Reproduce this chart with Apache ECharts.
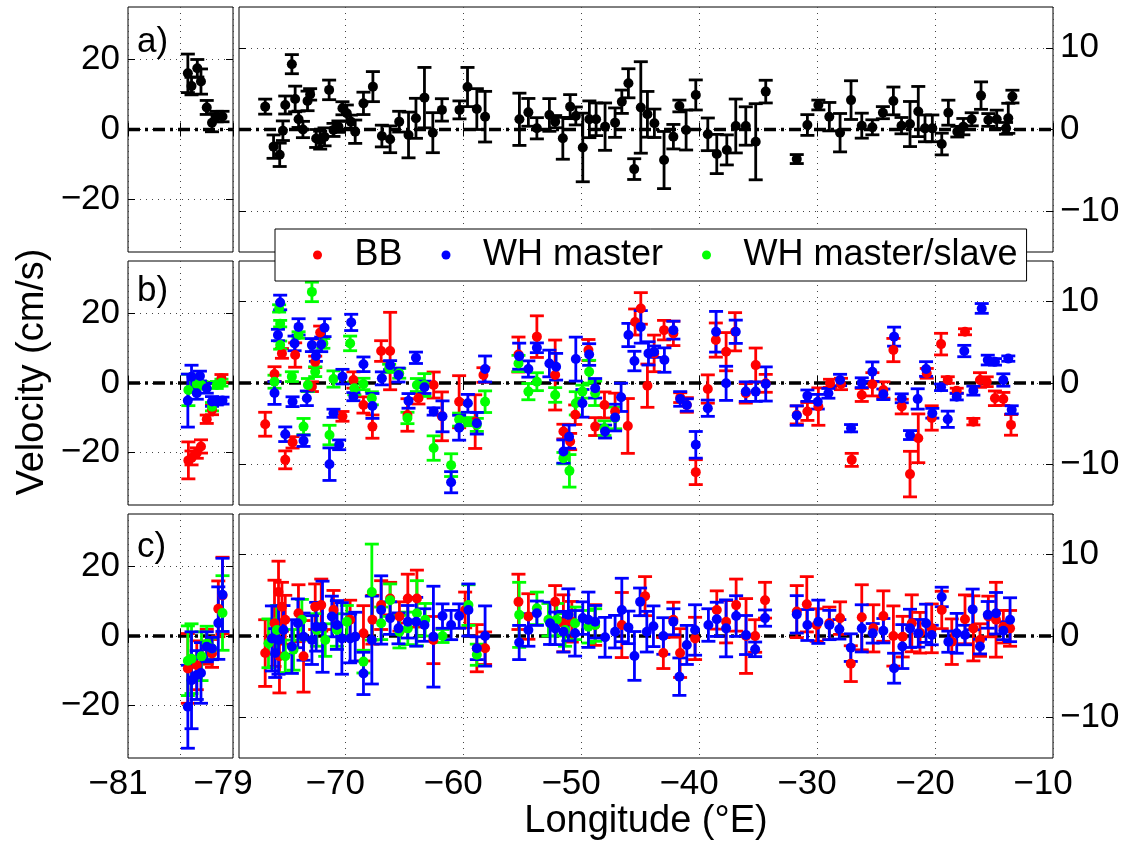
<!DOCTYPE html>
<html><head><meta charset="utf-8">
<script src="https://cdn.jsdelivr.net/npm/echarts@6/dist/echarts.min.js"></script>
<style>html,body{margin:0;padding:0;background:#fff}#c{width:1131px;height:845px}</style>
</head><body><div id="c"></div><script>
// ---------------- data: [longitude, velocity, error] ----------------
const A_LEFT = [[-79.86,16.05,5.5],[-79.79,12.4,2.5],[-79.68,17.5,2.5],[-79.61,13.7,3.6],[-79.5,6.3,2.0],[-79.4,1.95,2.6],[-79.31,3.7,1.5],[-79.2,3.7,1.5]];
const A_RIGHT = [[-76.78,2.8,0.92],[-76.07,-2.1,1.43],[-75.55,-3.1,1.43],[-75.28,-0.15,1.2],[-75.08,3.0,1.1],[-74.52,8.0,1.17],[-74.24,3.74,1.57],[-73.95,1.25,1.0],[-73.58,0.0,1.0],[-73.19,3.5,1.2],[-72.97,4.3,0.7],[-72.46,-1.1,1.1],[-72.12,-1.3,1.1],[-71.75,-0.9,1.1],[-71.36,4.85,1.2],[-70.99,-0.05,0.8],[-70.57,0.35,0.7],[-70.23,2.6,0.8],[-69.86,2.0,1.0],[-69.52,0.96,0.8],[-69.15,-0.27,1.43],[-68.45,3.2,1.37],[-67.65,5.25,1.84],[-66.89,-0.8,1.33],[-66.19,-1.2,1.64],[-65.42,0.96,1.27],[-64.63,-0.67,2.8],[-64.0,1.37,2.45],[-63.28,3.9,3.7],[-62.57,-0.39,2.45],[-61.8,2.4,1.37],[-60.31,2.4,1.1],[-59.63,5.2,2.4],[-58.84,2.5,2.5],[-58.14,1.57,3.1],[-55.23,1.25,3.2],[-54.47,2.1,1.7],[-53.75,0.15,1.3],[-52.69,1.78,2.0],[-52.2,0.96,0.75],[-51.55,-1.08,2.56],[-50.93,2.8,1.47],[-50.45,1.66,1.1],[-49.86,-2.2,4.2],[-49.3,1.25,2.25],[-48.73,1.25,2.0],[-47.97,0.35,2.9],[-47.12,0.84,1.8],[-46.55,3.4,1.43],[-45.99,5.66,1.78],[-45.5,-4.85,1.27],[-44.94,2.7,5.6],[-44.38,1.86,2.8],[-43.79,0.76,1.74],[-42.97,-3.74,3.5],[-42.18,-0.88,1.5],[-41.67,2.88,0.72],[-41.1,-0.06,2.45],[-40.28,4.23,1.84],[-39.26,-0.59,2.0],[-38.5,-3.0,2.4],[-37.65,-2.5,1.84],[-36.89,0.43,3.3],[-36.04,0.43,2.35],[-35.2,-1.5,4.66],[-34.35,4.64,1.39],[-31.72,-3.62,0.55],[-30.82,0.55,1.27],[-29.89,3.0,0.6],[-28.96,1.57,1.74],[-28.05,-0.39,2.35],[-27.12,3.6,2.37],[-26.21,0.47,1.53],[-25.31,0.27,0.92],[-24.42,2.06,0.74],[-23.53,3.5,1.7],[-22.84,0.47,1.0],[-22.12,0.67,2.76],[-21.42,2.2,3.07],[-20.85,0.14,1.64],[-20.23,0.14,1.64],[-19.43,-1.78,1.33],[-18.87,2.06,1.53],[-18.11,-0.27,0.65],[-17.6,0.35,1.0],[-16.89,1.25,0.8],[-16.1,4.15,1.68],[-15.48,1.17,0.78],[-14.77,1.25,1.12],[-13.98,0.14,0.72],[-13.79,1.37,1.84],[-13.44,4.03,0.78]];

const B_LEFT_BB = [[-79.85,-22.2,5.3],[-79.79,-21.5,2],[-79.69,-20.1,1.5],[-79.61,-18.2,1.9],[-79.5,-10.4,1.2],[-79.4,-7.7,1.4],[-79.22,1.33,1.1]];
const B_LEFT_WH = [[-79.86,-5.05,7.6],[-79.79,1.8,3.3],[-79.69,-2.95,1.7],[-79.63,2.0,1.4],[-79.5,-1.52,1.4],[-79.4,-5.3,1.4],[-79.31,-5.3,1.0],[-79.2,-5.05,1.0]];
const B_LEFT_WHMS = [[-79.85,-2.0,4.5],[-79.69,-0.3,1.5],[-79.6,-0.57,1.0],[-79.4,-6.8,1.2],[-79.31,-0.57,1.0],[-79.22,0.1,1.0]];

const B_RIGHT_BB = [[-76.78,-5.07,1.47],[-75.99,1.1,0.9],[-75.36,3.64,0.6],[-75.08,-9.45,1.1],[-74.46,-7.3,0.7],[-74.24,3.44,1.5],[-72.82,-0.45,0.6],[-72.54,2.6,0.7],[-72.12,6.2,0.8],[-70.23,-4.1,0.6],[-69.3,0.37,1.0],[-68.45,-2.7,1.0],[-67.69,-5.36,1.43],[-66.95,3.93,1.27],[-66.19,3.93,4.76],[-64.72,-3.93,2.0],[-63.79,-1.88,0.7],[-62.5,-0.25,1.6],[-61.8,-4.1,3.0],[-60.34,-2.3,3.2],[-58.98,-4.75,3.3],[-58.28,0.98,0.9],[-55.31,3.5,2.15],[-53.75,5.7,2.56],[-52.2,0.98,4.3],[-51.5,-5.97,0.9],[-50.93,-7.2,1.0],[-50.5,-3.9,1.2],[-49.38,4.05,1.3],[-48.81,-5.36,1.1],[-48.02,-2.7,1.6],[-47.12,-3.5,2.25],[-46.04,-5.28,3.37],[-45.42,7.5,1.6],[-44.94,9.17,1.94],[-44.38,-0.33,2.66],[-43.81,3.64,2.25],[-42.97,6.5,1.2],[-42.18,6.1,1.5],[-41.6,-1.8,0.6],[-41.04,-2.7,0.9],[-40.28,-10.96,1.53],[-39.26,-0.74,1.74],[-38.58,5.28,2.1],[-37.71,3.85,2.35],[-36.95,6.3,2.35],[-36.04,-1.27,1.2],[-35.2,2.2,2.1],[-34.35,-0.04,1.1],[-31.72,-3.93,1.1],[-30.82,-3.5,1.1],[-29.89,-2.9,2.3],[-28.9,-0.04,0.5],[-27.97,-0.12,0.7],[-27.06,-9.45,0.8],[-26.21,-1.47,0.8],[-25.31,-0.16,1.43],[-24.38,-0.86,1.0],[-23.53,4.05,1.43],[-22.82,-2.9,0.9],[-22.12,-11.2,2.8],[-21.42,-6.8,3.0],[-20.7,1.19,0.6],[-20.28,-4.3,1.5],[-19.49,4.78,1.33],[-18.92,0.37,0.4],[-18.16,-0.94,0.3],[-17.46,6.3,0.37],[-16.75,-4.75,0.4],[-16.19,0.37,0.9],[-15.62,0.16,0.6],[-14.92,-1.88,0.9],[-14.21,-1.96,0.8],[-13.56,-5.15,1.27]];
const B_RIGHT_WH = [[-75.99,-1.23,1.4],[-75.51,9.9,0.9],[-75.7,5.9,0.7],[-75.08,-6.3,0.9],[-74.46,-2.3,0.6],[-74.29,4.87,0.9],[-73.95,6.9,1.0],[-73.53,-7.1,0.7],[-73.25,-1.88,0.9],[-72.82,4.66,0.8],[-72.48,3.31,0.65],[-72.03,4.75,0.9],[-71.75,6.8,1.1],[-71.33,-9.98,2.0],[-70.99,-3.72,0.5],[-70.51,-7.6,0.6],[-70.23,0.78,0.9],[-69.49,7.45,1.0],[-69.3,-1.68,0.5],[-68.45,2.3,0.9],[-67.69,-2.82,1.53],[-66.89,0.57,0.8],[-66.19,2.2,0.55],[-65.48,0.98,0.86],[-64.63,-2.2,0.9],[-64.0,3.1,0.7],[-63.28,-0.53,0.76],[-62.5,-3.5,0.45],[-61.75,-4.1,1.9],[-61.02,-12.2,1.3],[-60.34,-5.5,1.53],[-59.6,-2.5,1.1],[-58.84,-4.95,1.33],[-58.14,1.72,1.6],[-55.25,3.3,1.6],[-54.47,1.72,1.0],[-53.75,4.33,0.6],[-52.69,2.4,1.64],[-52.12,2.0,1.64],[-51.5,-8.43,1.43],[-51.02,-6.6,1.43],[-50.45,2.94,2.7],[-49.89,-2.5,1.7],[-49.32,3.5,1.33],[-48.81,-0.65,1.2],[-47.97,-5.97,0.8],[-47.12,-4.25,1.64],[-46.61,-1.76,1.74],[-45.99,5.9,1.43],[-45.48,2.7,1.2],[-44.94,6.9,2.0],[-44.29,3.64,1.43],[-43.81,3.85,0.7],[-42.94,2.82,1.5],[-42.18,6.5,1.1],[-41.6,-1.96,0.9],[-41.04,-2.7,0.76],[-40.28,-7.6,1.64],[-39.26,-3.1,1.0],[-38.56,6.3,2.5],[-37.71,-0.04,2.1],[-36.89,6.3,1.43],[-36.04,-1.06,1.2],[-35.2,-1.06,1.2],[-34.35,-0.12,2.1],[-31.72,-4.0,1.2],[-30.82,-1.56,0.7],[-29.94,-2.3,0.9],[-29.04,-1.27,0.6],[-28.05,0.37,0.7],[-27.12,-5.56,0.45],[-26.21,0.04,0.6],[-25.31,1.39,1.2],[-24.38,-1.39,0.65],[-23.47,5.7,1.17],[-22.82,-1.88,0.55],[-22.12,-6.4,0.55],[-21.47,-1.96,1.25],[-20.76,1.72,0.9],[-20.23,-3.72,0.6],[-19.49,-0.53,0.4],[-18.92,-4.46,1.0],[-18.16,-1.68,0.4],[-17.52,3.93,0.7],[-16.75,-0.94,0.55],[-16.04,9.17,0.6],[-15.53,2.82,0.6],[-14.92,2.6,0.4],[-14.21,0.37,0.76],[-13.79,3.0,0.33],[-13.5,-3.3,0.5]];
const B_RIGHT_WHMS = [[-75.99,0.16,0.8],[-75.6,9.17,0.45],[-75.51,7.3,0.4],[-75.51,4.66,0.5],[-74.52,0.78,0.6],[-73.95,5.9,0.4],[-73.53,-5.36,1.0],[-73.16,-0.25,0.8],[-72.82,11.2,1.2],[-72.54,1.39,0.6],[-71.85,4.87,0.6],[-71.33,-6.4,1.2],[-70.99,0.49,1.0],[-69.58,4.87,0.9],[-69.22,-0.65,0.8],[-68.45,-0.12,0.7],[-67.74,-1.88,0.8],[-66.27,1.8,0.5],[-65.42,1.19,0.6],[-64.72,-4.3,0.7],[-63.92,-0.25,0.8],[-63.28,-0.25,1.4],[-62.5,-8.0,1.5],[-61.02,-10.1,1.4],[-60.34,-4.5,0.8],[-59.6,-4.75,0.5],[-58.84,-5.15,0.8],[-58.14,-2.3,1.33],[-55.31,2.4,1.0],[-54.47,-1.06,1.0],[-53.75,0.16,1.1],[-52.2,-1.47,0.9],[-51.5,-9.24,0.7],[-50.99,-10.8,2.0],[-50.45,-2.5,1.43],[-49.89,-1.06,0.8],[-49.32,1.39,1.4],[-48.81,-1.27,1.5],[-48.02,-5.56,0.9],[-47.12,-4.3,1.33]];

const C_LEFT_BB = [[-79.86,-9.3,10],[-79.69,-8.4,7],[-79.5,-3.1,5],[-79.4,-5.0,4],[-79.28,7.8,8],[-79.2,11.6,11]];
const C_LEFT_WH = [[-79.86,-20.3,11.9],[-79.79,-12.7,13.9],[-79.69,-11.2,7],[-79.61,-10.6,8.7],[-79.5,-3.1,4.3],[-79.4,-3.6,3.2],[-79.28,3.7,10.4],[-79.2,11.8,10.5]];
const C_LEFT_WHMS = [[-79.86,-7.1,10],[-79.79,-6.5,10],[-79.6,-5.8,7],[-79.5,-2.2,5],[-79.4,-3.6,3],[-79.2,6.6,10.7]];

const C_RIGHT_BB = [[-76.78,-2.1,4.1],[-75.99,1.56,5.3],[-75.65,5.4,3.8],[-75.36,3.6,3.0],[-75.57,-2.5,4.5],[-75.08,2.0,3.0],[-73.96,2.8,3.5],[-73.53,-2.5,4.4],[-72.54,3.6,2.8],[-72.03,3.8,3.2],[-70.99,3.2,2.4],[-69.58,2.0,2.4],[-68.45,0.33,3.4],[-67.69,2.0,3.0],[-66.95,3.8,3.0],[-66.19,4.6,2.0],[-65.4,2.4,1.8],[-64.69,4.6,3.0],[-63.92,4.6,3.5],[-62.52,-0.5,2.9],[-59.83,3.2,2.2],[-58.84,-1.5,2.9],[-58.14,-1.5,2.0],[-55.31,4.2,3.4],[-54.47,2.4,2.8],[-52.2,4.2,2.0],[-51.5,1.56,3.5],[-50.79,1.75,2.5],[-48.81,1.35,2.5],[-46.55,1.35,4.0],[-44.58,4.9,2.4],[-43.03,-2.1,1.9],[-42.18,2.0,2.15],[-41.61,-2.1,3.0],[-40.34,-0.3,2.6],[-38.5,3.2,2.35],[-37.71,1.75,2.6],[-36.86,3.8,3.2],[-36.02,0,4.6],[-35.25,0,2.0],[-34.41,4.4,2.2],[-31.72,3.0,3.2],[-30.87,3.9,3.4],[-30.03,1.35,2.0],[-28.96,1.56,2.0],[-28.05,2.2,2.0],[-27.14,-3.4,2.2],[-26.21,2.3,4.0],[-25.23,0.94,2.9],[-24.38,2.45,3.1],[-23.53,0,3.7],[-22.74,-0.08,2.5],[-21.97,1.56,3.5],[-21.27,0.4,2.5],[-20.28,0.94,3.0],[-19.43,3.2,2.3],[-18.58,-0.7,2.8],[-17.46,2.05,3.0],[-16.75,0.94,4.0],[-16.19,-0.5,2.0],[-15.48,2.4,2.5],[-14.83,2.0,4.6],[-14.21,1.14,2.0],[-13.64,0.94,2.2]];
const C_RIGHT_WH = [[-76.21,-0.3,4],[-75.93,-2.1,3],[-75.65,-0.5,4.2],[-75.23,0.74,3],[-74.52,-1.3,3.3],[-74.01,1.56,3],[-73.53,-0.08,2.9],[-72.82,-0.5,3],[-72.46,1.14,3],[-71.92,1.14,5.6],[-71.13,2.4,2.5],[-70.7,1.35,3],[-70.28,-0.3,4.4],[-69.58,-0.3,3],[-69.15,-0.08,3],[-68.45,-4.6,2.6],[-67.74,-0.5,5.4],[-66.95,3.2,4.2],[-66.19,2.2,2],[-65.48,0.94,1.9],[-64.69,1.75,2],[-63.98,1.75,3],[-63.28,1.35,2],[-62.52,-0.08,6.2],[-61.75,2.45,1.5],[-61.02,1.35,1.8],[-60.34,2.45,1.5],[-59.55,3.2,3.2],[-58.84,-1.5,1.4],[-58.14,0,3.7],[-55.25,-0.8,2.1],[-54.47,0.74,2],[-53.75,2.8,1.5],[-52.63,1.56,2.6],[-52.2,0.94,2],[-51.5,0.53,2.5],[-51.08,2.6,3.2],[-50.51,0.33,2.8],[-49.86,2.2,2],[-49.38,2.0,3.4],[-48.81,1.75,2],[-47.97,-0.16,2.45],[-47.12,0.53,2],[-46.55,3.2,3.9],[-45.99,1.06,2],[-45.48,-2.45,3],[-45.0,4.2,1.7],[-44.43,0.53,2.5],[-43.87,1.2,2.5],[-43.03,0,2.25],[-42.18,1.75,1.6],[-41.67,-5.0,2.3],[-41.04,-1.1,2.4],[-40.34,0.74,3.1],[-39.21,1.35,2.0],[-38.5,2.05,2.1],[-37.71,0.94,3.5],[-36.86,2.45,2.5],[-36.02,0.12,2.4],[-35.25,-1.64,0.9],[-34.41,2.2,1.0],[-31.72,2.66,2.3],[-30.82,1.35,1.9],[-29.89,1.75,2.66],[-28.96,1.35,1.8],[-28.11,0.82,1.2],[-27.14,-1.43,1.7],[-26.21,0.94,2.9],[-25.28,0.33,1.2],[-24.38,0.65,1.5],[-23.47,-3.96,1.84],[-22.77,-1.3,2.7],[-22.12,0.94,2.35],[-21.42,0.33,1.7],[-20.76,1.56,2.35],[-20.28,0.12,1.2],[-19.43,4.8,1.2],[-18.87,-0.7,1.3],[-18.16,0.33,2.45],[-17.46,0.12,1.2],[-16.81,3.27,2.5],[-16.19,-1.3,0.9],[-15.53,2.6,1.64],[-14.83,2.8,2.55],[-14.21,0.65,1.1],[-13.64,2.0,2.7]];
const C_RIGHT_WHMS = [[-76.5,-0.9,3],[-75.79,0.74,3],[-75.08,-2.5,2],[-74.38,-1.7,2.5],[-73.67,2.0,2.5],[-72.4,0.74,2],[-71.69,-0.5,2],[-70.7,0.74,2],[-69.86,1.75,2],[-68.45,-3.15,1.4],[-67.74,5.4,5.9],[-66.95,1.56,2],[-66.19,4.4,2],[-65.4,0.53,2],[-64.69,0.94,2],[-63.92,2.8,4],[-63.22,2.0,2],[-61.75,0,0.8],[-59.55,3.8,2.5],[-58.84,-2.3,1.3],[-55.25,2.6,4],[-53.75,3.4,2],[-52.77,2.0,2],[-52.06,2.0,2],[-51.36,0.74,2],[-50.51,1.56,2],[-49.38,1.14,2],[-48.81,1.35,2]];

// ---------------- axes / labels ----------------
const X_LEFT_RANGE = [-81, -79];
const X_RIGHT_RANGE = [-79, -10];
const Y_LEFT_RANGE = [-35, 35];
const Y_RIGHT_RANGE = [-15, 15];
const X_LEFT_TICKS = [-81, -80, -79];
const X_LEFT_LABELS = [-81, -79];
const X_RIGHT_TICKS = [-70, -60, -50, -40, -30, -20, -10];
const Y_LEFT_TICKS = [-20, 0, 20];
const Y_RIGHT_TICKS = [-10, 0, 10];
const ZERO = [0];
const PANEL_LABELS = ['a)', 'b)', 'c)'];
const LEGEND_NAMES = ['BB', 'WH master', 'WH master/slave'];
const X_NAME = 'Longitude (°E)';
const Y_NAME = 'Velocity (cm/s)';

// ---------------- layout & style ----------------
const FONT = '"Liberation Sans", Arial, Helvetica, sans-serif';
const ROWS = [{top: 7, height: 245}, {top: 261, height: 244}, {top: 514, height: 244}];
const COLS = [{left: 128, width: 105}, {left: 239, width: 814}];
const RED = '#ff0000', BLUE = '#0000ff', GREEN = '#00ff00', BLACK = '#000000';

const fmt = v => (v < 0 ? '\u2212' + Math.abs(v) : String(v));

const grids = [], xAxes = [], yAxes = [], series = [];
for (let r = 0; r < 3; r++) {
  for (let c = 0; c < 2; c++) {
    const g = r * 2 + c;
    grids.push({left: COLS[c].left, width: COLS[c].width, top: ROWS[r].top, height: ROWS[r].height,
      show: true, borderColor: '#000', borderWidth: 1, backgroundColor: 'transparent', containLabel: false});
    const xr = c === 0 ? X_LEFT_RANGE : X_RIGHT_RANGE;
    const yr = c === 0 ? Y_LEFT_RANGE : Y_RIGHT_RANGE;
    const xt = c === 0 ? X_LEFT_TICKS : X_RIGHT_TICKS;
    const xl = c === 0 ? X_LEFT_LABELS : X_RIGHT_TICKS;
    const yt = c === 0 ? Y_LEFT_TICKS : Y_RIGHT_TICKS;
    ['bottom', 'top'].forEach(pos => {
      const main = pos === 'bottom';
      const ax = {
        type: 'value', gridIndex: g, position: pos, min: xr[0], max: xr[1],
        axisLine: {show: false},
        axisTick: {show: true, inside: true, length: 7, customValues: xt, lineStyle: {color: '#000', width: 1}},
        axisLabel: {show: main && r === 2, customValues: xl, formatter: fmt, fontSize: 35, fontFamily: FONT,
          color: '#000', margin: 9, padding: [0, 20, 0, 0]},
        splitLine: {show: main, lineStyle: {color: '#444', width: 1, type: [1, 5]}}
      };
      if (main && r === 2 && c === 1) {
        Object.assign(ax, {name: X_NAME, nameLocation: 'middle', nameGap: 43,
          nameTextStyle: {fontSize: 38, fontFamily: FONT, color: '#000'}});
      }
      xAxes.push(ax);
    });
    ['left', 'right'].forEach(pos => {
      const main = pos === 'left';
      const showLabel = (c === 0 && pos === 'left') || (c === 1 && pos === 'right');
      const ax = {
        type: 'value', gridIndex: g, position: pos, min: yr[0], max: yr[1],
        axisLine: {show: false},
        axisTick: {show: true, inside: true, length: 7, customValues: yt, lineStyle: {color: '#000', width: 1}},
        axisLabel: {show: showLabel, customValues: yt, formatter: fmt, fontSize: 35, fontFamily: FONT,
          color: '#000', margin: c === 0 ? 8 : 7},
        splitLine: {show: main, lineStyle: {color: '#444', width: 1, type: [1, 5]}}
      };
      if (main && r === 1 && c === 0) {
        Object.assign(ax, {name: Y_NAME, nameLocation: 'middle', nameRotate: 90, nameGap: 76,
          nameTextStyle: {fontSize: 38, fontFamily: FONT, color: '#000', padding: [0, 0, 0, 22]}});
      }
      yAxes.push(ax);
    });
    // zero reference line
    series.push({type: 'line', xAxisIndex: g * 2, yAxisIndex: g * 2, silent: true, symbol: 'none', z: 1,
      data: [[xr[0], ZERO[0]], [xr[1], ZERO[0]]],
      lineStyle: {color: '#000', width: 3.5, type: [12, 5, 3, 5]}});
  }
}

function errBars(g, data, color) {
  return {
    type: 'custom', xAxisIndex: g * 2, yAxisIndex: g * 2, data: data, clip: true, silent: true, z: 2,
    encode: {x: 0, y: 1},
    renderItem(params, api) {
      const x = api.value(0), y = api.value(1), e = api.value(2);
      const t = api.coord([x, y + e]), b = api.coord([x, y - e]);
      const hw = 7;
      const style = {stroke: color, lineWidth: 2.8, fill: null};
      return {type: 'group', children: [
        {type: 'line', shape: {x1: t[0], y1: t[1], x2: b[0], y2: b[1]}, style},
        {type: 'line', shape: {x1: t[0] - hw, y1: t[1], x2: t[0] + hw, y2: t[1]}, style},
        {type: 'line', shape: {x1: b[0] - hw, y1: b[1], x2: b[0] + hw, y2: b[1]}, style}
      ]};
    }
  };
}
function dots(g, data, color, name) {
  const s = {type: 'scatter', xAxisIndex: g * 2, yAxisIndex: g * 2, silent: true, z: 2,
    data: data.map(d => [d[0], d[1]]), symbol: 'circle', symbolSize: 10,
    itemStyle: {color: color, opacity: 1}};
  if (name) s.name = name;
  return s;
}
function addGroup(g, data, color, name) {
  series.push(errBars(g, data, color));
  series.push(dots(g, data, color, name));
}

// panel a
addGroup(0, A_LEFT, BLACK);
addGroup(1, A_RIGHT, BLACK);
// panel b
addGroup(2, B_LEFT_BB, RED, LEGEND_NAMES[0]);
addGroup(2, B_LEFT_WHMS, GREEN, LEGEND_NAMES[2]);
addGroup(2, B_LEFT_WH, BLUE, LEGEND_NAMES[1]);
addGroup(3, B_RIGHT_BB, RED, LEGEND_NAMES[0]);
addGroup(3, B_RIGHT_WHMS, GREEN, LEGEND_NAMES[2]);
addGroup(3, B_RIGHT_WH, BLUE, LEGEND_NAMES[1]);
// panel c
addGroup(4, C_LEFT_BB, RED, LEGEND_NAMES[0]);
addGroup(4, C_LEFT_WHMS, GREEN, LEGEND_NAMES[2]);
addGroup(4, C_LEFT_WH, BLUE, LEGEND_NAMES[1]);
addGroup(5, C_RIGHT_BB, RED, LEGEND_NAMES[0]);
addGroup(5, C_RIGHT_WHMS, GREEN, LEGEND_NAMES[2]);
addGroup(5, C_RIGHT_WH, BLUE, LEGEND_NAMES[1]);

const LABEL_TOPS = [24.5, 273.5, 530];
const option = {
  animation: false,
  backgroundColor: '#fff',
  grid: grids, xAxis: xAxes, yAxis: yAxes, series: series,
  legend: {
    data: LEGEND_NAMES.map(n => ({name: n, icon: 'circle'})),
    left: 275, top: 229, orient: 'horizontal',
    itemWidth: 64, itemHeight: 9, itemGap: 39, padding: [8, 9, 8, 38],
    backgroundColor: '#fff', borderColor: '#000', borderWidth: 1, borderRadius: 0,
    selectedMode: false, z: 10,
    textStyle: {fontSize: 36, fontFamily: FONT, color: '#000'}
  },
  graphic: PANEL_LABELS.map((t, i) => ({
    type: 'text', left: 137, top: LABEL_TOPS[i], z: 10, silent: true,
    style: {text: t, fontSize: 35, fontFamily: FONT, fill: '#000'}
  }))
};
const chart = echarts.init(document.getElementById('c'), null, {renderer: 'canvas'});
chart.setOption(option);
</script></body></html>
